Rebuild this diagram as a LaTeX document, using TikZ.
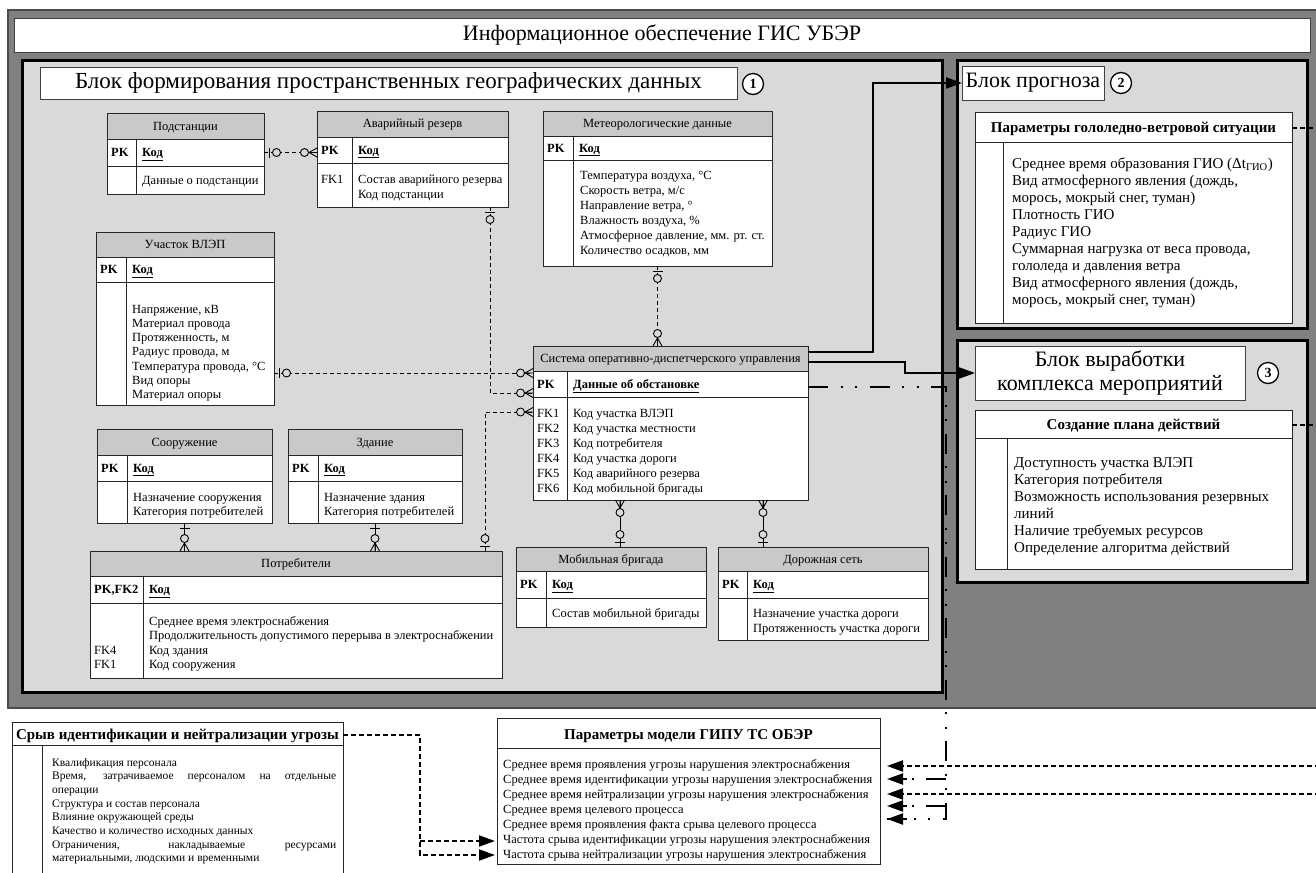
\documentclass[tikz,border=0pt]{standalone}
\usepackage{fontspec}
\setmainfont{Liberation Serif}
\usetikzlibrary{calc,arrows.meta}
\definecolor{outerg}{HTML}{808080}
\definecolor{blockg}{HTML}{D9D9D9}
\definecolor{hdrg}{HTML}{C9C9C9}
\newcommand\fsz[2]{\fontsize{#1}{#2}\selectfont}
\newcommand\erfont{\fsz{12.5}{14}}
\newcommand\blkfont{\fsz{15}{17}}
\newcommand\titlefont{\fsz{22}{25}}

% rectangle node given by its corners
\newcommand\boxnode[7]{%
  \node[#2, anchor=north west, inner sep=0pt, outer sep=0pt,
        minimum width={(#5-#3)*1pt}, minimum height={(#6-#4)*1pt}] (#1) at (#3,#4) {#7};}

% ER table: name, x1, y1, x2, y2, header bottom, key row bottom, column divider, title
\newcommand\ertab[9]{%
  \boxnode{#1}{fill=white}{#2}{#3}{#4}{#5}{}%
  \fill[hdrg] (#2,#3) rectangle (#4,#6);
  \draw[tline] (#2,#6) -- (#4,#6) (#2,#7) -- (#4,#7) (#8,#6) -- (#8,#5);
  \draw[tline] (#1.north west) rectangle (#1.south east);
  \coordinate (#1-row) at (#2,{(#6+#7)/2});
  \coordinate (#1-div) at (#8,{(#6+#7)/2});
  \node[ertxt, anchor=base] (#1-h) at ({(#2+#4)/2},{(#3+#6)/2+4}) {#9};}

% key row of an ER table
\newcommand\erpk[3]{%
  \node[ertxt, font=\erfont\bfseries, anchor=base west] (#1-pk) at ($(#1-row)+(4,4)$) {#2};
  \node[ertxt, font=\erfont\bfseries, anchor=base west] (#1-key) at ($(#1-div)+(6,4)$) {\underline{#3}};}

% lines of text: name prefix, x, first baseline, spacing, style, list
\newcommand\bodylines[6]{%
  \foreach \bline [count=\i] in {#6} {%
    \node[#5, anchor=base west] (#1\i) at ({#2},{#3+(\i-1)*#4}) {\bline};}}

\tikzset{
  sym/.style={line width=0.9pt, draw=black},
  pics/crowo/.style={code={
    \draw[sym] (8,0) -- (0,4.5) (8,0) -- (0,-4.5) (8,0) -- (0,0);
    \draw[sym, fill=blockg] (12.5,0) circle[radius=4pt];}},
  pics/baro/.style={code={
    \draw[sym] (5,-5) -- (5,5);
    \draw[sym, fill=blockg] (12.5,0) circle[radius=4pt];}},
  pics/onebar/.style={code={\draw[sym] (5,-5) -- (5,5);}},
}

\begin{document}
\begin{tikzpicture}[x=1pt,y=-1pt,
  tline/.style={line width=0.8pt, draw=black!85},
  ertxt/.style={font=\erfont, inner sep=0pt, text=black},
  blktxt/.style={font=\blkfont, inner sep=0pt, text=black},
  smalltxt/.style={font=\fsz{11.5}{13.5}, inner sep=0pt, text=black},
  pmtxt/.style={font=\fsz{12.5}{15}, inner sep=0pt, text=black},
  hdbold/.style={font=\fsz{15}{17}\bfseries, inner sep=0pt},
  titlebox/.style={draw=black!75, line width=0.9pt, fill=white, font=\titlefont, align=center},
  blockframe/.style={draw=black, line width=3pt, fill=blockg},
  numcirc/.style={circle, draw=black, line width=1.3pt, fill=white, minimum size=21pt, inner sep=0pt, font=\fsz{14}{14}\bfseries},
  erline/.style={line width=0.8pt, dash pattern=on 4pt off 3pt},
  bigtip/.style={-{Triangle[length=16pt,width=11pt]}},
  flow/.style={line width=2.2pt, bigtip},
  ddline/.style={line width=2pt, dash pattern=on 20pt off 12.5pt on 2pt off 12.5pt on 2pt off 12.5pt},
  dline/.style={line width=2pt, dash pattern=on 5pt off 3pt},
  tip/.style={line width=2pt, bigtip},
]
\useasboundingbox (0,0) rectangle (1316,872);
\fill[white] (0,0) rectangle (1316,872);

% outer frame and title
\boxnode{outer}{draw=black!70, line width=1.2pt, fill=outerg}{8}{10}{1330}{708}{}
\boxnode{title}{titlebox}{14}{18}{1310}{52}{Информационное обеспечение ГИС УБЭР}

% block 1
\boxnode{blk1}{blockframe}{22}{61}{942}{692}{}
\boxnode{blk1t}{titlebox, font=\fsz{23}{26}}{40}{67}{737}{99}{Блок формирования пространственных географических данных}
\node[numcirc] (n1) at (753,84) {1};

% block 2
\boxnode{blk2}{blockframe}{957}{61}{1307}{328}{}
\boxnode{blk2t}{titlebox}{962}{66}{1104}{100}{Блок прогноза}
\node[numcirc] (n2) at (1121,83) {2};

% block 3
\boxnode{blk3}{blockframe}{957}{340}{1307}{582}{}
\boxnode{blk3t}{titlebox, font=\fsz{22}{24}}{975}{346}{1245}{400}{Блок выработки\\комплекса мероприятий}
\node[numcirc] (n3) at (1268,373) {3};

% ER tables
\ertab{podst}{107}{113}{264}{194}{139}{166}{136}{Подстанции}
\erpk{podst}{PK}{Код}
\bodylines{podst-b}{142}{184}{15}{ertxt}{{Данные о подстанции}}

\ertab{avar}{317}{111}{508}{207}{137}{163}{352}{Аварийный резерв}
\erpk{avar}{PK}{Код}
\bodylines{avar-f}{321}{183}{15}{ertxt}{FK1}
\bodylines{avar-b}{358}{183}{15}{ertxt}{{Состав аварийного резерва},{Код подстанции}}

\ertab{meteo}{543}{111}{772}{266}{136}{160}{573}{Метеорологические данные}
\erpk{meteo}{PK}{Код}
\bodylines{meteo-b}{580}{179}{15}{ertxt}{{Температура воздуха, °C},{Скорость ветра, м/с},{Направление ветра, °},{Влажность воздуха, \%},{Атмосферное давление, мм. рт. ст.},{Количество осадков, мм}}

\ertab{uch}{96}{232}{274}{405}{257}{282}{126}{Участок ВЛЭП}
\erpk{uch}{PK}{Код}
\bodylines{uch-b}{132}{313}{14.3}{ertxt}{{Напряжение, кВ},{Материал провода},{Протяженность, м},{Радиус провода, м},{Температура провода, °C},{Вид опоры},{Материал опоры}}

\ertab{odu}{533}{346}{808}{500}{371}{397}{567}{Система оперативно-диспетчерского управления}
\erpk{odu}{PK}{Данные об обстановке}
\bodylines{odu-f}{537}{417}{15}{ertxt}{FK1,FK2,FK3,FK4,FK5,FK6}
\bodylines{odu-b}{573}{417}{15}{ertxt}{{Код участка ВЛЭП},{Код участка местности},{Код потребителя},{Код участка дороги},{Код аварийного резерва},{Код мобильной бригады}}

\ertab{soor}{97}{429}{272}{523}{455}{481}{127}{Сооружение}
\erpk{soor}{PK}{Код}
\bodylines{soor-b}{133}{501}{14.5}{ertxt}{{Назначение сооружения},{Категория потребителей}}

\ertab{zd}{288}{429}{462}{523}{455}{481}{318}{Здание}
\erpk{zd}{PK}{Код}
\bodylines{zd-b}{324}{501}{14.5}{ertxt}{{Назначение здания},{Категория потребителей}}

\ertab{potr}{90}{551}{502}{678}{576}{603}{143}{Потребители}
\erpk{potr}{PK,FK2}{Код}
\bodylines{potr-f}{94}{654}{14.5}{ertxt}{FK4,FK1}
\bodylines{potr-b}{149}{625}{14.5}{ertxt}{{Среднее время электроснабжения},{Продолжительность допустимого перерыва в электроснабжении},{Код здания},{Код сооружения}}

\ertab{mob}{516}{547}{706}{627}{571}{598}{546}{Мобильная бригада}
\erpk{mob}{PK}{Код}
\bodylines{mob-b}{552}{617}{15}{ertxt}{{Состав мобильной бригады}}

\ertab{road}{718}{547}{928}{640}{571}{598}{747}{Дорожная сеть}
\erpk{road}{PK}{Код}
\bodylines{road-b}{753}{617}{15}{ertxt}{{Назначение участка дороги},{Протяженность участка дороги}}

% ER relations
\coordinate (oduW1) at ($(odu.north west)+(0,27)$);
\coordinate (oduW2) at ($(odu.north west)+(0,47)$);
\coordinate (oduW3) at ($(odu.north west)+(0,66)$);
\coordinate (avarS) at ($(avar.south east)+(-18,0)$);
\coordinate (potrN) at ($(potr.north east)+(-17,0)$);
\coordinate (mobN) at ($(mob.north west)+(104,0)$);
\coordinate (roadN) at ($(road.north west)+(45,0)$);

\draw[erline] (podst.east |- podst-row) -- (avar.west |- podst-row);
\draw[erline] (avarS) |- (oduW2);
\draw[erline] (uch.east |- oduW1) -- (oduW1);
\draw[erline] (potrN) |- (oduW3);
\draw[erline] (meteo.south) -- (meteo.south |- odu.north);
\draw[sym] (soor.south) -- (soor.south |- potr.north);
\draw[sym] (zd.south) -- (zd.south |- potr.north);
\draw[sym] (mobN) -- (mobN |- odu.south);
\draw[sym] (roadN) -- (roadN |- odu.south);

\pic at (podst.east |- podst-row) {baro};
\pic[rotate=180] at (avar.west |- podst-row) {crowo};
\pic[rotate=-90] at (avarS) {baro};
\pic[rotate=180] at (oduW2) {crowo};
\pic at (uch.east |- oduW1) {baro};
\pic[rotate=180] at (oduW1) {crowo};
\pic[rotate=90] at (potrN) {baro};
\pic[rotate=180] at (oduW3) {crowo};
\pic[rotate=-90] at (meteo.south) {baro};
\pic[rotate=90] at (meteo.south |- odu.north) {crowo};
\pic[rotate=-90] at (soor.south) {onebar};
\pic[rotate=90] at (soor.south |- potr.north) {crowo};
\pic[rotate=-90] at (zd.south) {onebar};
\pic[rotate=90] at (zd.south |- potr.north) {crowo};
\pic[rotate=-90] at (mobN |- odu.south) {crowo};
\pic[rotate=90] at (mobN) {baro};
\pic[rotate=-90] at (roadN |- odu.south) {crowo};
\pic[rotate=90] at (roadN) {baro};

% forecast parameters
\boxnode{gvs}{fill=white}{975}{112}{1292}{323}{}
\draw[tline] (975,142) -- (1292,142) (1003,142) -- (1003,323);
\draw[tline] (gvs.north west) rectangle (gvs.south east);
\node[hdbold, anchor=base] (gvs-h) at (1133.5,132) {Параметры гололедно-ветровой ситуации};
\bodylines{gvs-b}{1012}{168}{17.1}{blktxt}{{Среднее время образования ГИО (Δt\textsubscript{ГИО})},{Вид атмосферного явления (дождь,},{морось, мокрый снег, туман)},{Плотность ГИО},{Радиус ГИО},{Суммарная нагрузка от веса провода,},{гололеда и давления ветра},{Вид атмосферного явления (дождь,},{морось, мокрый снег, туман)}}

% action plan
\boxnode{plan}{fill=white}{975}{410}{1292}{569}{}
\draw[tline] (975,438) -- (1292,438) (1007,438) -- (1007,569);
\draw[tline] (plan.north west) rectangle (plan.south east);
\node[hdbold, anchor=base] (plan-h) at (1133.5,429) {Создание плана действий};
\bodylines{plan-b}{1014}{467}{17}{blktxt}{{Доступность участка ВЛЭП},{Категория потребителя},{Возможность использования резервных},{линий},{Наличие требуемых ресурсов},{Определение алгоритма действий}}

% threat handling failure
\boxnode{srv}{fill=white}{12}{722}{343}{890}{}
\draw[tline] (12,745) -- (343,745) (42,745) -- (42,890);
\draw[tline] (srv.north west) rectangle (srv.south east);
\node[hdbold, anchor=base] (srv-h) at (177.5,739) {Срыв идентификации и нейтрализации угрозы};
\bodylines{srv-b}{52}{766}{13.7}{smalltxt}{{Квалификация персонала},{\makebox[284pt][s]{Время, затрачиваемое персоналом на отдельные}},{операции},{Структура и состав персонала},{Влияние окружающей среды},{Качество и количество исходных данных},{\makebox[284pt][s]{Ограничения, накладываемые ресурсами}},{материальными, людскими и временными}}

% model parameters
\boxnode{pm}{fill=white}{497}{718}{880}{864}{}
\draw[tline] (497,748) -- (880,748);
\draw[tline] (pm.north west) rectangle (pm.south east);
\node[hdbold, anchor=base] (pm-h) at (688.5,739) {Параметры модели ГИПУ ТС ОБЭР};
\bodylines{pm-b}{503}{768}{15}{pmtxt}{{Среднее время проявления угрозы нарушения электроснабжения},{Среднее время идентификации угрозы нарушения электроснабжения},{Среднее время нейтрализации угрозы нарушения электроснабжения},{Среднее время целевого процесса},{Среднее время проявления факта срыва целевого процесса},{Частота срыва идентификации угрозы нарушения электроснабжения},{Частота срыва нейтрализации угрозы нарушения электроснабжения}}

% flows from the dispatch system
\draw[flow] ($(odu.north east)+(0,6)$) -- ++(65,0) |- (blk2t.west);
\draw[flow] ($(odu.north east)+(0,16)$) -- ++(97,0) |- (blk3t.west);

\foreach \n/\yy in {1/766,2/779,3/794,4/806,5/819}
  \coordinate (pmE\n) at ($(pm.north east)+(7,\yy-718)$);
\coordinate (pmW6) at ($(pm.north west)+(-2,123)$);
\coordinate (pmW7) at ($(pm.north west)+(-2,137)$);

\coordinate (ddS) at ($(odu.north east)+(0,41)$);
\coordinate (ddX) at ($(blk1.north east)+(4,0)$);
\draw[ddline] (ddS) -- (ddS -| ddX) -- (ddX |- pmE5) -- (pmE5);
\draw[ddline] (ddX |- pmE2) -- (pmE2);
\draw[ddline] (ddX |- pmE4) -- (pmE4);
\foreach \n in {2,4,5} \draw[tip] ($(pmE\n)+(20,0)$) -- (pmE\n);

% dashed links leaving to the right and returning
\coordinate (gvsOut) at ($(gvs.east |- gvs-h)+(30,0)$);
\coordinate (planOut) at ($(plan.east |- plan-h)+(30,0)$);
\draw[dline] (gvs.east |- gvs-h) -- (gvsOut);
\draw[dline] (plan.east |- plan-h) -- (planOut);
\coordinate (edge1) at (1320,766);
\coordinate (edge3) at (1320,794);
\draw[dline, bigtip] (edge1) -- (pmE1);
\draw[dline, bigtip] (edge3) -- (pmE3);

% links from the threat handling table
\coordinate (srvE) at (srv.east |- srv-h);
\coordinate (jx) at ($(srvE)+(77,0)$);
\draw[dline, bigtip] (srvE) -- (jx) -- (jx |- pmW7) -- (pmW7);
\draw[dline, bigtip] (jx |- pmW6) -- (pmW6);
\end{tikzpicture}
\end{document}
